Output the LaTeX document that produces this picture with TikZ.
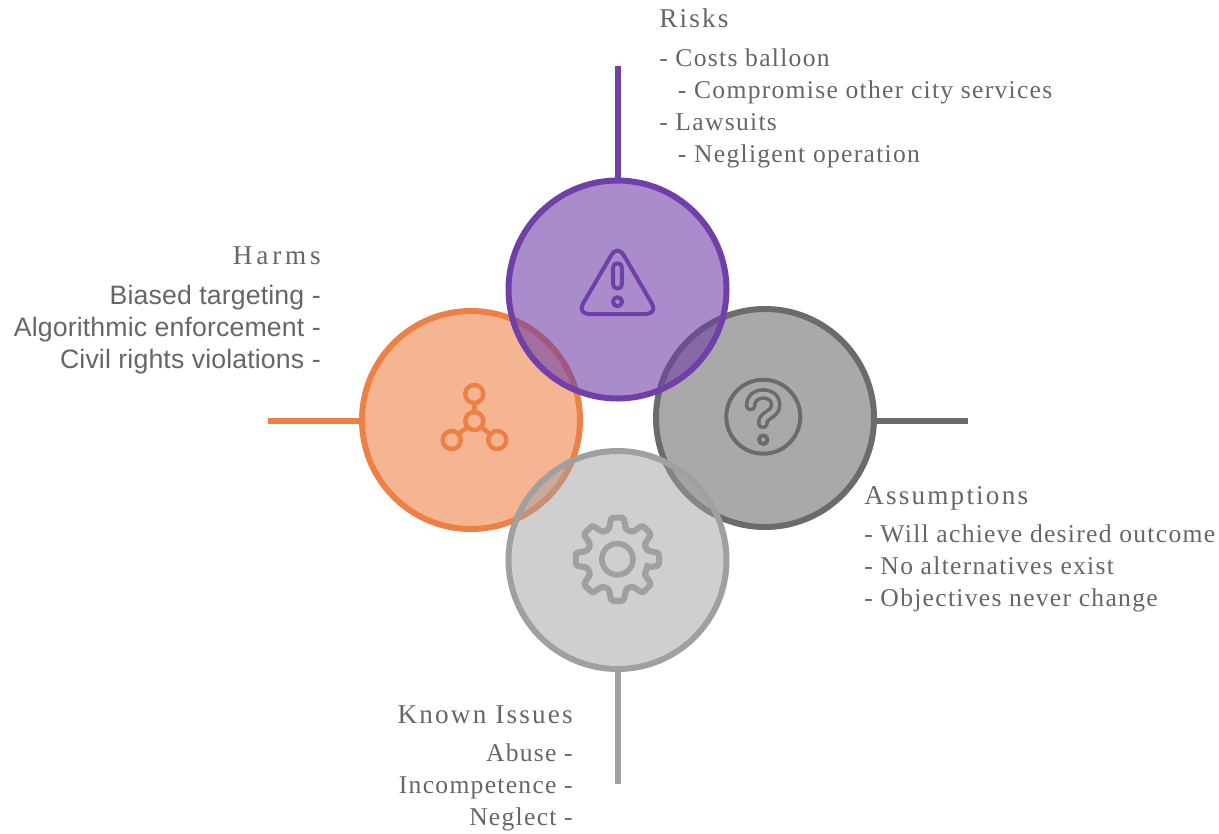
\documentclass[tikz,border=0pt]{standalone}
\usepackage{fontspec}
\setmainfont{Liberation Serif}
\newfontfamily\bodyserif[LetterSpace=5]{Liberation Serif}
\newfontfamily\titleserif[LetterSpace=8]{Liberation Serif}
\newfontfamily\harmtitlefont[LetterSpace=14]{Liberation Serif}
\newfontfamily\harmsans[LetterSpace=0.5]{Liberation Sans}
\definecolor{cpurple}{HTML}{703FA8}
\definecolor{corange}{HTML}{ED8045}
\definecolor{cdark}{HTML}{6B6B6B}
\definecolor{clight}{HTML}{A0A0A0}
\definecolor{ctext}{HTML}{666666}
\definecolor{cdarkfill}{HTML}{AAAAAA}
\tikzset{
  disc/.style={circle,draw=#1,fill=#1,line width=4.5pt,minimum size=163.5pt,inner sep=0pt,fill opacity=.58},
  stem/.style={draw=#1,line width=4.5pt},
  icon/.style={draw=#1,line width=3pt,line join=round,line cap=round},
  title/.style={text=ctext,inner sep=0pt,font=\fontsize{20.4}{24}\titleserif},
  listing/.style={text=ctext,inner sep=0pt,font=\fontsize{19.2}{24}\selectfont\bodyserif},
}
\begin{document}
\begin{tikzpicture}[x=.75pt,y=-.75pt]
\useasboundingbox (0,0) rectangle (1219,833);
% discs
\node[disc=corange] (harmdisc) at (471,420) {};
\node[disc=cdark] (assumedisc) at (765,418) {};
\node[disc=cpurple,fill opacity=.6] (riskdisc) at (617.5,289.5) {};
\node[disc=clight,fill opacity=.5] (issuedisc) at (617.5,560) {};
% stems
\coordinate (riskend) at (617.5,66);
\coordinate (harmend) at (268,420.5);
\coordinate (assumeend) at (968,420.5);
\coordinate (issueend) at (617.5,784);
\draw[stem=cpurple] (riskdisc.north) -- (riskend);
\draw[stem=corange] (harmdisc.west |- harmend) -- (harmend);
\draw[stem=cdark] (assumedisc.east |- assumeend) -- (assumeend);
\draw[stem=clight] (issuedisc.south) -- (issueend);
% warning icon
\draw[icon=cpurple,rounded corners=9pt] (617.5,244.5) -- (658,314) -- (577,314) -- cycle;
\draw[icon=cpurple,rounded corners=2.8pt] (613.2,263.4) rectangle (621.8,288.3);
\draw[icon=cpurple] (617.5,301.7) circle (3.4pt);
% network icon
\begin{scope}[icon=corange,line width=3.4pt]
\draw (474.3,394) circle (6.75pt);
\draw (474.3,421) circle (6.75pt);
\draw (451.7,440) circle (6.75pt);
\draw (497.3,440) circle (6.75pt);
\draw[line cap=butt] (474.3,403) -- (474.3,412);
\draw[line cap=butt] (467.4,426.8) -- (458.6,434.2);
\draw[line cap=butt] (481.2,426.8) -- (490.4,434.2);
\end{scope}
% question icon
\begin{scope}[icon=cdark,line width=3pt]
\draw (763.3,416.7) circle (27.75pt);
\draw (763.3,439.7) circle (3.2pt);
\draw[line width=8.8pt] (750.7,405.5) .. controls (750.7,398) and (756,394) .. (763.3,394)
  .. controls (771,394) and (775.7,398.5) .. (775.7,405)
  .. controls (775.7,412) and (769,414) .. (765,417.5)
  .. controls (763,419.5) and (762.7,421) .. (762.9,423.3);
\draw[draw=cdarkfill,line width=3.4pt] (750.7,405.5) .. controls (750.7,398) and (756,394) .. (763.3,394)
  .. controls (771,394) and (775.7,398.5) .. (775.7,405)
  .. controls (775.7,412) and (769,414) .. (765,417.5)
  .. controls (763,419.5) and (762.7,421) .. (762.9,423.3);
\end{scope}
% gear icon
\begin{scope}[shift={(617.4,559.2)},x=.75pt,y=.75pt]
\draw[icon=clight,line width=4.2pt] (0,0) circle (11.7pt);
\draw[icon=clight,line width=4.6pt,rounded corners=1.6pt]
  (-16:31) -- (-8.5:42) -- (8.5:42) -- (16:31)
  -- (29:31) -- (36.5:42) -- (53.5:42) -- (61:31)
  -- (74:31) -- (81.5:42) -- (98.5:42) -- (106:31)
  -- (119:31) -- (126.5:42) -- (143.5:42) -- (151:31)
  -- (164:31) -- (171.5:42) -- (188.5:42) -- (196:31)
  -- (209:31) -- (216.5:42) -- (233.5:42) -- (241:31)
  -- (254:31) -- (261.5:42) -- (278.5:42) -- (286:31)
  -- (299:31) -- (306.5:42) -- (323.5:42) -- (331:31)
  -- (344:31) -- cycle;
\end{scope}
% texts
\node[title,anchor=base west] (risktitle) at (659,27) {Risks};
\node[listing,anchor=north west,align=left] (risklist) at (659,48.3) {- Costs balloon\\\hspace*{14pt}- Compromise other city services\\- Lawsuits\\\hspace*{14pt}- Negligent operation};
\node[title,anchor=base east,font=\fontsize{20.4}{24}\harmtitlefont] (harmtitle) at (321,264) {Harms};
\node[listing,anchor=north east,align=right,font=\fontsize{20}{24}\selectfont\harmsans] (harmlist) at (321,284.5) {Biased targeting -\\Algorithmic enforcement -\\Civil rights violations -};
\node[title,anchor=base west] (assumetitle) at (864,504) {Assumptions};
\node[listing,anchor=north west,align=left] (assumelist) at (864,524.3) {- Will achieve desired outcome\\- No alternatives exist\\- Objectives never change};
\node[title,anchor=base east] (issuetitle) at (573,723) {Known Issues};
\node[listing,anchor=north east,align=right] (issuelist) at (573,743.8) {Abuse -\\Incompetence -\\Neglect -};
\end{tikzpicture}
\end{document}
